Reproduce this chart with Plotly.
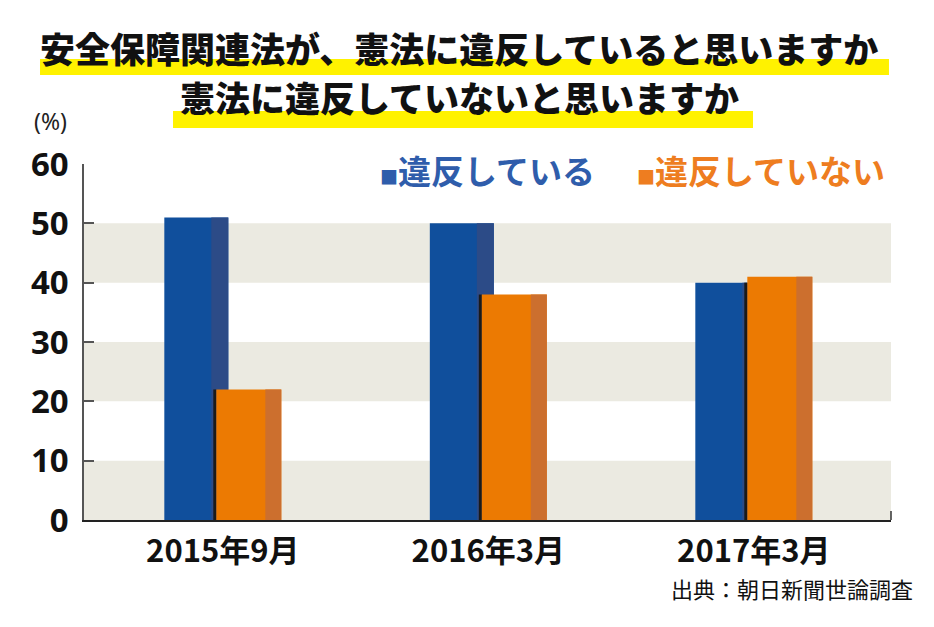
import plotly.graph_objects as go

# data
periods = ["2015年9月", "2016年3月", "2017年3月"]
series_names = ["違反している", "違反していない"]
violates = [51, 50, 40]
not_violates = [22, 38, 41]
y_ticks = [0, 10, 20, 30, 40, 50, 60]
bands = [(0, 10), (20, 30), (40, 50)]

title1 = "安全保障関連法が、憲法に違反していると思いますか"
title2 = "憲法に違反していないと思いますか"
source = "出典：朝日新聞世論調査"

BLUE = "#104f9c"
BLUE_SIDE = "#2c4b87"
ORANGE = "#ec7a02"
ORANGE_SIDE = "#cc6f2e"
BAND = "#ebeae1"
FONT = "Noto Sans CJK JP"

xpos = list(range(len(periods)))
shadow = [min(a, b) for a, b in zip(violates, not_violates)]

fig = go.Figure()
# blue bar + darker side strip
fig.add_trace(go.Bar(x=xpos, y=violates, name=series_names[0], marker=dict(color=BLUE, line=dict(width=0)),
                     offset=-0.2203, width=0.2411))
fig.add_trace(go.Bar(x=xpos, y=violates, marker=dict(color=BLUE_SIDE, line=dict(width=0)),
                     offset=-0.0433, width=0.0640))
# dark shadow at the left edge of orange bar
fig.add_trace(go.Bar(x=xpos, y=shadow, marker=dict(color="#1a1a1a", line=dict(width=0)),
                     offset=-0.0358, width=0.0115))
# orange bar + darker side strip
fig.add_trace(go.Bar(x=xpos, y=not_violates, name=series_names[1], marker=dict(color=ORANGE, line=dict(width=0)),
                     offset=-0.0245, width=0.2448))
fig.add_trace(go.Bar(x=xpos, y=not_violates, marker=dict(color=ORANGE_SIDE, line=dict(width=0)),
                     offset=0.1601, width=0.0603))

shapes = []
for lo, hi in bands:
    shapes.append(dict(type="rect", xref="paper", yref="y", x0=0, x1=1, y0=lo, y1=hi,
                       fillcolor=BAND, line=dict(width=0), layer="below"))
# yellow highlights under title lines
shapes.append(dict(type="rect", xref="paper", yref="paper", x0=-0.0545, x1=0.9975, y0=1.25, y1=1.2949,
                   fillcolor="#fff200", line=dict(width=0), layer="below"))
shapes.append(dict(type="rect", xref="paper", yref="paper", x0=0.1103, x1=0.829, y0=1.1011, y1=1.1489,
                   fillcolor="#fff200", line=dict(width=0), layer="below"))
# small tick at right end of x axis
shapes.append(dict(type="line", xref="paper", yref="paper", x0=1, x1=1, y0=0, y1=0.025,
                   line=dict(color="#333333", width=1.5)))

sq = "<span style='font-size:18px'>■</span>"
annotations = [
    dict(text=title1, x=0.4647, y=1.3286, xref="paper", yref="paper", showarrow=False,
         font=dict(family=FONT, size=35, color="#111111", weight=900), xanchor="center", yanchor="middle"),
    dict(text=title2, x=0.4647, y=1.1883, xref="paper", yref="paper", showarrow=False,
         font=dict(family=FONT, size=35, color="#111111", weight=900), xanchor="center", yanchor="middle"),
    dict(text="(%)", x=-0.0409, y=1.0702, xref="paper", yref="paper", showarrow=False,
         font=dict(family="Noto Sans", size=23, color="#222222"), xanchor="center", yanchor="bottom"),
    dict(text=sq + series_names[0], x=0.3643, y=0.983, xref="paper", yref="paper", showarrow=False,
         font=dict(family=FONT, size=33, color="#2f5dab", weight=700), xanchor="left", yanchor="middle"),
    dict(text=sq + series_names[1], x=0.6828, y=0.983, xref="paper", yref="paper", showarrow=False,
         font=dict(family=FONT, size=33, color="#ee7d20", weight=700), xanchor="left", yanchor="middle"),
    dict(text=source, x=1.03, y=-0.19, xref="paper", yref="paper", showarrow=False,
         font=dict(family=FONT, size=22, color="#111111"), xanchor="right", yanchor="middle"),
]

fig.update_layout(
    width=934, height=627,
    margin=dict(l=76, r=51, t=156, b=115),
    paper_bgcolor="white", plot_bgcolor="white",
    barmode="overlay", showlegend=False,
    shapes=shapes, annotations=annotations,
    xaxis=dict(range=[-0.5228, 2.5167], tickvals=xpos, ticktext=periods, showgrid=False, zeroline=False,
               showline=True, linecolor="#222222", linewidth=1.5, ticks="", automargin=False,
               tickfont=dict(family=FONT, size=31, color="#111111", weight=700), ticklabelstandoff=3),
    yaxis=dict(range=[0, 60], tickvals=y_ticks, showgrid=False, zeroline=False, automargin=False,
               showline=True, linecolor="#555555", linewidth=1.5, ticks="inside", ticklen=10,
               tickcolor="#555555", tickwidth=1.5,
               tickfont=dict(family="Noto Sans", size=33, color="#111111", weight=700), ticklabelstandoff=7),
)

fig.write_html("out.html")
